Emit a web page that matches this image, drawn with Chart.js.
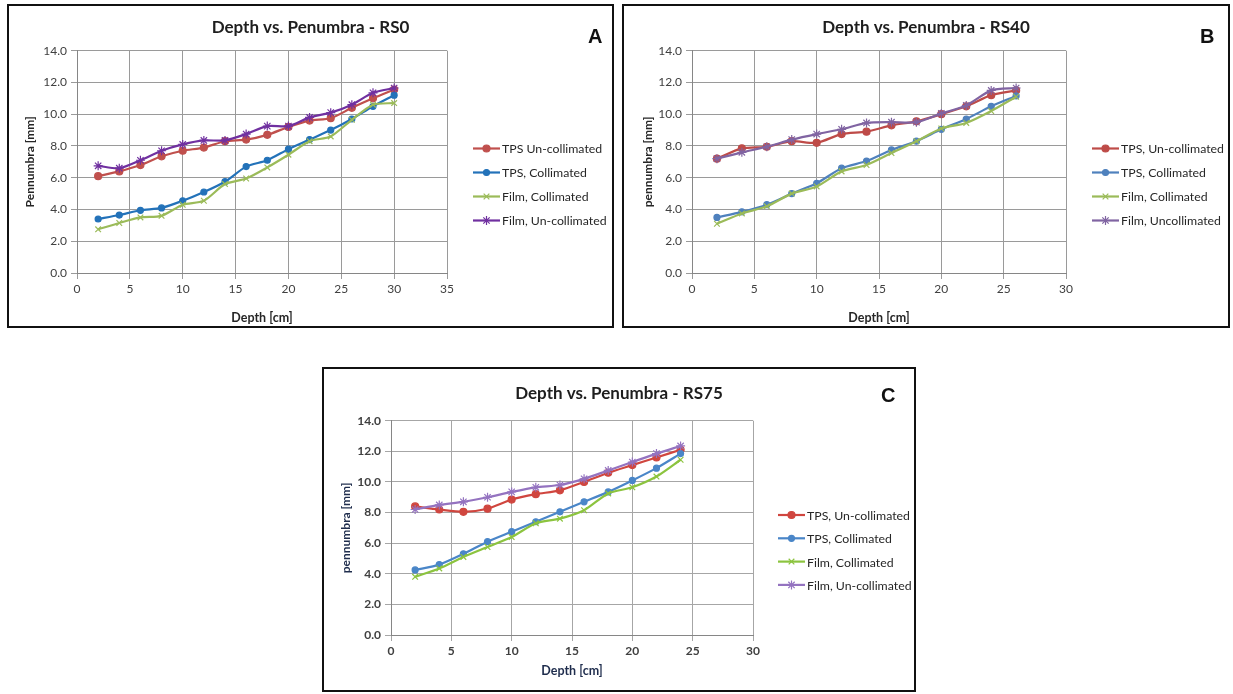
<!DOCTYPE html>
<html>
<head>
<meta charset="utf-8">
<script src="https://cdn.jsdelivr.net/npm/chart.js@4"></script>
<style>
  html, body { margin: 0; padding: 0; background: #fff; }
  body { width: 1233px; height: 694px; position: relative; overflow: hidden; font-family: Lato, "Open Sans", sans-serif; }
  .panel { position: absolute; box-sizing: border-box; border: 2px solid #111; background: #fff; }
  .panel canvas { position: absolute; left: 0; top: 0; }
  .tag { position: absolute; font: bold 20px "Liberation Sans", Arial, sans-serif; color: #111; line-height: 20px; }
  #panelA { left: 7px; top: 4px; width: 607px; height: 324px; }
  #panelB { left: 622px; top: 4px; width: 608px; height: 324px; }
  #panelC { left: 322px; top: 367px; width: 594px; height: 325px; }
</style>
</head>
<body>
<div class="panel" id="panelA"><canvas id="chartA" width="603" height="320"></canvas><div class="tag" style="left:579px;top:20px">A</div></div>
<div class="panel" id="panelB"><canvas id="chartB" width="604" height="320"></canvas><div class="tag" style="left:576px;top:20px">B</div></div>
<div class="panel" id="panelC"><canvas id="chartC" width="590" height="321"></canvas><div class="tag" style="left:557px;top:16px">C</div></div>

<script>
// depth in cm, penumbra in mm
const depthA = [2, 4, 6, 8, 10, 12, 14, 16, 18, 20, 22, 24, 26, 28, 30];
const tpsUncollA = [6.1, 6.4, 6.8, 7.35, 7.7, 7.9, 8.3, 8.4, 8.7, 9.2, 9.6, 9.75, 10.4, 11.0, 11.55];
const tpsCollA = [3.4, 3.65, 3.95, 4.1, 4.55, 5.1, 5.75, 6.7, 7.1, 7.8, 8.4, 9.0, 9.7, 10.5, 11.2];
const filmCollA = [2.75, 3.15, 3.5, 3.6, 4.3, 4.55, 5.6, 5.95, 6.65, 7.45, 8.3, 8.6, 9.65, 10.6, 10.7];
const filmUncollA = [6.75, 6.6, 7.1, 7.7, 8.1, 8.35, 8.35, 8.75, 9.25, 9.25, 9.8, 10.1, 10.6, 11.35, 11.65];

const depthB = [2, 4, 6, 8, 10, 12, 14, 16, 18, 20, 22, 24, 26];
const tpsUncollB = [7.2, 7.85, 7.95, 8.3, 8.2, 8.75, 8.9, 9.3, 9.55, 10.0, 10.5, 11.2, 11.5];
const tpsCollB = [3.5, 3.85, 4.3, 5.0, 5.65, 6.6, 7.05, 7.75, 8.3, 9.05, 9.7, 10.5, 11.15];
const filmCollB = [3.1, 3.75, 4.2, 5.0, 5.45, 6.4, 6.8, 7.55, 8.3, 9.1, 9.45, 10.2, 11.1];
const filmUncollB = [7.2, 7.6, 7.95, 8.4, 8.75, 9.05, 9.45, 9.5, 9.5, 10.05, 10.55, 11.5, 11.65];

const depthC = [2, 4, 6, 8, 10, 12, 14, 16, 18, 20, 22, 24];
const tpsUncollC = [8.4, 8.2, 8.05, 8.25, 8.85, 9.2, 9.45, 10.0, 10.6, 11.1, 11.6, 12.1];
const tpsCollC = [4.25, 4.6, 5.3, 6.1, 6.75, 7.4, 8.05, 8.7, 9.35, 10.1, 10.9, 11.85];
const filmCollC = [3.8, 4.35, 5.1, 5.75, 6.4, 7.3, 7.6, 8.15, 9.25, 9.65, 10.35, 11.45];
const filmUncollC = [8.2, 8.5, 8.7, 9.0, 9.35, 9.65, 9.8, 10.2, 10.75, 11.3, 11.85, 12.35];

const yTicks = [0, 2, 4, 6, 8, 10, 12, 14];

const FONT = "Lato, 'Open Sans', sans-serif";

// chart title centred over the whole panel, plus the legend to the right of the plot
const panelDecor = {
  id: "panelDecor",
  afterDraw(chart, args, opts) {
    const ctx = chart.ctx;
    ctx.save();
    ctx.font = opts.titleFont;
    ctx.fillStyle = "#1e1e1e";
    ctx.textAlign = "center";
    ctx.textBaseline = "middle";
    ctx.fillText(opts.title, chart.width / 2, opts.titleY);

    ctx.font = opts.font;
    ctx.textAlign = "left";
    chart.data.datasets.forEach((ds, i) => {
      const x = opts.left;
      const y = opts.top + i * opts.gap;
      ctx.strokeStyle = ds.borderColor;
      ctx.lineWidth = ds.borderWidth;
      ctx.beginPath();
      ctx.moveTo(x, y);
      ctx.lineTo(x + opts.sample, y);
      ctx.stroke();
      ctx.fillStyle = ds.pointBackgroundColor;
      ctx.strokeStyle = ds.pointBorderColor;
      ctx.lineWidth = ds.pointBorderWidth;
      Chart.helpers.drawPoint(ctx, {
        pointStyle: ds.pointStyle,
        radius: ds.pointRadius,
        borderWidth: ds.pointBorderWidth,
        rotation: 0
      }, x + opts.sample / 2, y);
      ctx.fillStyle = opts.color;
      ctx.fillText(ds.label, x + opts.sample + 2, y + 1);
    });
    ctx.restore();
  }
};

function series(label, xs, ys, color, style, radius, order) {
  return {
    label: label,
    data: xs.map((x, i) => ({ x: x, y: ys[i] })),
    borderColor: color,
    backgroundColor: color,
    pointBackgroundColor: color,
    pointBorderColor: color,
    pointStyle: style,
    pointRadius: radius,
    pointBorderWidth: 1.2,
    borderWidth: 2.2,
    tension: 0.25,
    order: order
  };
}

function buildChart(id, cfg) {
  const ctx = document.getElementById(id).getContext("2d");
  const c = cfg.colors;
  const tickFont = { family: FONT, size: 12, weight: cfg.tickWeight };
  return new Chart(ctx, {
    type: "line",
    data: {
      datasets: [
        series(cfg.labels[0], cfg.depth, cfg.tpsUncoll, c[0], "circle", 3.5, 3),
        series(cfg.labels[1], cfg.depth, cfg.tpsColl, c[1], "circle", 3, 2),
        series(cfg.labels[2], cfg.depth, cfg.filmColl, c[2], "crossRot", 4, 1),
        series(cfg.labels[3], cfg.depth, cfg.filmUncoll, c[3], "star", 4.5, 0)
      ]
    },
    plugins: [panelDecor],
    options: {
      responsive: false,
      animation: false,
      events: [],
      layout: {
        padding: { left: 0, right: cfg.padRight, top: cfg.plotTop, bottom: 0 }
      },
      plugins: {
        legend: { display: false },
        tooltip: { enabled: false },
        title: { display: false },
        panelDecor: {
          title: cfg.title,
          titleY: cfg.titleY,
          titleFont: "bold 17px " + FONT,
          left: cfg.legendLeft,
          top: cfg.legendTop,
          gap: cfg.legendGap,
          sample: 27,
          font: "12.3px " + FONT,
          color: "#262626"
        }
      },
      scales: {
        x: {
          type: "linear",
          min: 0,
          max: cfg.xMax,
          afterFit(scale) { scale.height = cfg.xAxisHeight; },
          ticks: {
            stepSize: 5,
            color: "#404040",
            font: tickFont,
            padding: 3
          },
          grid: { color: cfg.gridColor, lineWidth: 1, tickLength: 6 },
          border: { color: "#868686", width: 1 },
          title: {
            display: true,
            text: "Depth [cm]",
            color: cfg.axisTitleColor,
            font: { family: FONT, size: 12.5, weight: "bold" },
            padding: { top: 0, bottom: cfg.xTitleBottom }
          }
        },
        y: {
          min: 0,
          max: 14,
          afterFit(scale) { scale.width = cfg.yAxisWidth; },
          afterBuildTicks(scale) { scale.ticks = yTicks.map((v) => ({ value: v })); },
          ticks: {
            color: "#404040",
            font: tickFont,
            padding: 4,
            callback: (v) => v.toFixed(1)
          },
          grid: { color: cfg.gridColor, lineWidth: 1, tickLength: 6 },
          border: { color: "#868686", width: 1 },
          title: {
            display: true,
            text: cfg.yTitle,
            color: cfg.axisTitleColor,
            font: { family: FONT, size: 12, weight: "bold" },
            padding: { top: cfg.yTitleTop, bottom: 0 }
          }
        }
      }
    }
  });
}

buildChart("chartA", {
  title: "Depth vs. Penumbra - RS0",
  yTitle: "Pennumbra [mm]",
  labels: ["TPS Un-collimated", "TPS, Collimated", "Film, Collimated", "Film, Un-collimated"],
  depth: depthA, tpsUncoll: tpsUncollA, tpsColl: tpsCollA, filmColl: filmCollA, filmUncoll: filmUncollA,
  colors: ["#C0504D", "#2372B9", "#9BBB59", "#7030A0"],
  xMax: 35,
  padRight: 165,
  plotTop: 44.7,
  titleY: 21.5,
  yAxisWidth: 68,
  xAxisHeight: 53,
  xTitleBottom: 1,
  yTitleTop: 14,
  legendLeft: 464,
  legendTop: 142.5,
  legendGap: 24,
  tickWeight: "normal",
  gridColor: "#9a9a9a",
  axisTitleColor: "#262626"
});

buildChart("chartB", {
  title: "Depth vs. Penumbra - RS40",
  yTitle: "pennumbra [mm]",
  labels: ["TPS, Un-collimated", "TPS, Collimated", "Film, Collimated", "Film, Uncollimated"],
  depth: depthB, tpsUncoll: tpsUncollB, tpsColl: tpsCollB, filmColl: filmCollB, filmUncoll: filmUncollB,
  colors: ["#BE4B48", "#4F81BD", "#9BBB59", "#8064A2"],
  xMax: 30,
  padRight: 162,
  plotTop: 44.7,
  titleY: 21.5,
  yAxisWidth: 68,
  xAxisHeight: 53,
  xTitleBottom: 1,
  yTitleTop: 17,
  legendLeft: 468,
  legendTop: 142.5,
  legendGap: 24,
  tickWeight: "normal",
  gridColor: "#9a9a9a",
  axisTitleColor: "#262626"
});

buildChart("chartC", {
  title: "Depth vs. Penumbra - RS75",
  yTitle: "pennumbra [mm]",
  labels: ["TPS, Un-collimated", "TPS, Collimated", "Film, Collimated", "Film, Un-collimated"],
  depth: depthC, tpsUncoll: tpsUncollC, tpsColl: tpsCollC, filmColl: filmCollC, filmUncoll: filmUncollC,
  colors: ["#D0463F", "#4A86C8", "#8CC43F", "#9473C0"],
  xMax: 30,
  padRight: 161,
  plotTop: 51.7,
  titleY: 25,
  yAxisWidth: 67,
  xAxisHeight: 55,
  xTitleBottom: 12,
  yTitleTop: 15,
  legendLeft: 454,
  legendTop: 146,
  legendGap: 23.3,
  tickWeight: "bold",
  gridColor: "#a6a6a6",
  axisTitleColor: "#1f2d4d"
});
</script>
</body>
</html>
